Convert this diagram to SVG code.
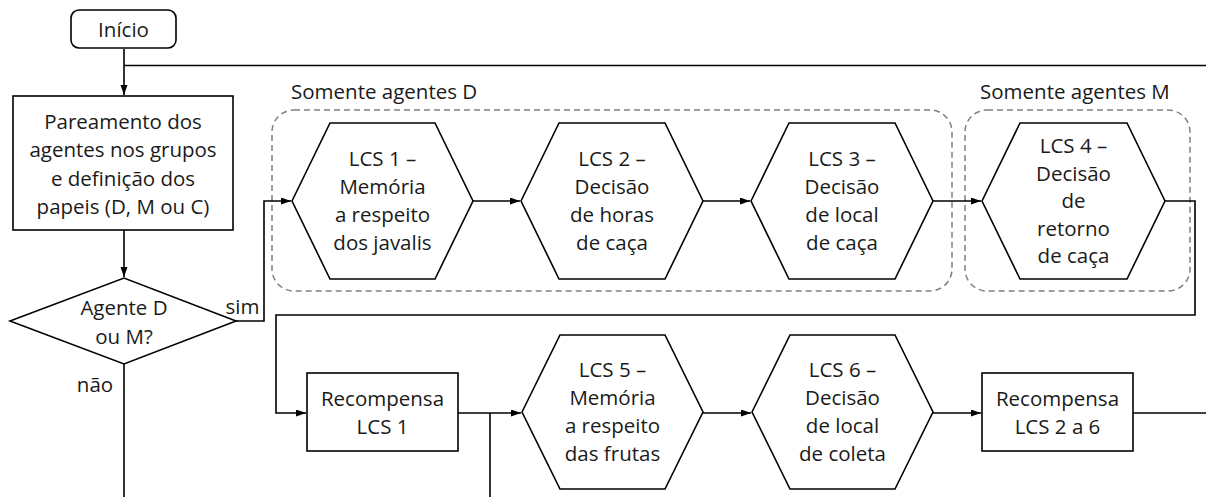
<svg xmlns="http://www.w3.org/2000/svg" width="1206" height="497" viewBox="0 0 1206 497">
<style>
.s{fill:#fff;stroke:#000;stroke-width:1.6}
.t{font-family:"Open Sans","Liberation Sans",sans-serif;font-size:20.5px;fill:#1a1a1a;text-anchor:middle}
.l{font-family:"Open Sans","Liberation Sans",sans-serif;font-size:20.5px;fill:#1a1a1a}
.c{fill:none;stroke:#000;stroke-width:1.6}
.g{fill:none;stroke:#808080;stroke-width:1.5;stroke-dasharray:6 4}
</style>
<defs>
<marker id="a" markerUnits="userSpaceOnUse" markerWidth="11" markerHeight="8" refX="10" refY="3.5" orient="auto">
<path d="M0,0 L10,3.5 L0,7 z" fill="#000"/>
</marker>
</defs>
<rect width="1206" height="497" fill="#fff"/>
<g id="groupD">
<rect class="g" x="272" y="110" width="680" height="181" rx="22"/>
<text class="l" x="291" y="98.5">Somente agentes D</text>
</g>
<g id="groupM">
<rect class="g" x="965" y="110" width="225" height="181" rx="22"/>
<text class="l" x="980" y="98.5">Somente agentes M</text>
</g>
<g id="connectors">
<path class="c" d="M124,49 V95" marker-end="url(#a)"/>
<path class="c" d="M124,65.5 H1206"/>
<path class="c" d="M124,230 V277" marker-end="url(#a)"/>
<path class="c" d="M236,321 H264 V201 H291" marker-end="url(#a)"/>
<path class="c" d="M124,364 V497"/>
<path class="c" d="M473,201 H520" marker-end="url(#a)"/>
<path class="c" d="M703,201 H750" marker-end="url(#a)"/>
<path class="c" d="M933,201 H981" marker-end="url(#a)"/>
<path class="c" d="M1165,201 H1195 V315 H276 V413 H306" marker-end="url(#a)"/>
<path class="c" d="M458,413 H521" marker-end="url(#a)"/>
<path class="c" d="M490,413 V497"/>
<path class="c" d="M703,413 H751" marker-end="url(#a)"/>
<path class="c" d="M933,413 H981" marker-end="url(#a)"/>
<path class="c" d="M1133,413 H1206"/>
</g>
<g id="inicio">
<rect class="s" x="71" y="10" width="105" height="38" rx="8"/>
<text class="t" x="123.5" y="37">Início</text>
</g>
<g id="pareamento">
<rect class="s" x="13" y="96" width="220" height="134"/>
<text class="t" x="123" y="128.5">Pareamento dos</text>
<text class="t" x="123" y="157">agentes nos grupos</text>
<text class="t" x="123" y="185.5">e definição dos</text>
<text class="t" x="123" y="213.5">papeis (D, M ou C)</text>
</g>
<g id="decisao">
<polygon class="s" points="10,321 124,278 236,321 124,364"/>
<text class="t" x="124" y="314.5">Agente D</text>
<text class="t" x="124" y="344">ou M?</text>
<text class="t" x="242.5" y="313.5">sim</text>
<text class="t" x="95" y="392">não</text>
</g>
<g id="lcs1">
<polygon class="s" points="292,201 330,123 435,123 473,201 435,279 330,279"/>
<text class="t" x="382.5" y="166">LCS 1 –</text>
<text class="t" x="382.5" y="194">Memória</text>
<text class="t" x="382.5" y="222">a respeito</text>
<text class="t" x="382.5" y="250">dos javalis</text>
</g>
<g id="lcs2">
<polygon class="s" points="521,201 559,123 665,123 703,201 665,279 559,279"/>
<text class="t" x="612" y="166">LCS 2 –</text>
<text class="t" x="612" y="194">Decisão</text>
<text class="t" x="612" y="222">de horas</text>
<text class="t" x="612" y="250">de caça</text>
</g>
<g id="lcs3">
<polygon class="s" points="751,201 789,123 895,123 933,201 895,279 789,279"/>
<text class="t" x="842" y="166">LCS 3 –</text>
<text class="t" x="842" y="194">Decisão</text>
<text class="t" x="842" y="222">de local</text>
<text class="t" x="842" y="250">de caça</text>
</g>
<g id="lcs4">
<polygon class="s" points="982,201 1020,123 1127,123 1165,201 1127,279 1020,279"/>
<text class="t" x="1073.5" y="153">LCS 4 –</text>
<text class="t" x="1073.5" y="180.5">Decisão</text>
<text class="t" x="1073.5" y="208">de</text>
<text class="t" x="1073.5" y="235.5">retorno</text>
<text class="t" x="1073.5" y="263">de caça</text>
</g>
<g id="recompensa1">
<rect class="s" x="307" y="373" width="151" height="78"/>
<text class="t" x="382.5" y="405.5">Recompensa</text>
<text class="t" x="382.5" y="434">LCS 1</text>
</g>
<g id="lcs5">
<polygon class="s" points="522,412 560,335 665,335 703,412 665,489 560,489"/>
<text class="t" x="612.5" y="377">LCS 5 –</text>
<text class="t" x="612.5" y="405">Memória</text>
<text class="t" x="612.5" y="433">a respeito</text>
<text class="t" x="612.5" y="461">das frutas</text>
</g>
<g id="lcs6">
<polygon class="s" points="752,412 790,335 895,335 933,412 895,489 790,489"/>
<text class="t" x="842.5" y="377">LCS 6 –</text>
<text class="t" x="842.5" y="405">Decisão</text>
<text class="t" x="842.5" y="433">de local</text>
<text class="t" x="842.5" y="461">de coleta</text>
</g>
<g id="recompensa2">
<rect class="s" x="982" y="373" width="151" height="78"/>
<text class="t" x="1057.5" y="405.5">Recompensa</text>
<text class="t" x="1057.5" y="434">LCS 2 a 6</text>
</g>
</svg>
